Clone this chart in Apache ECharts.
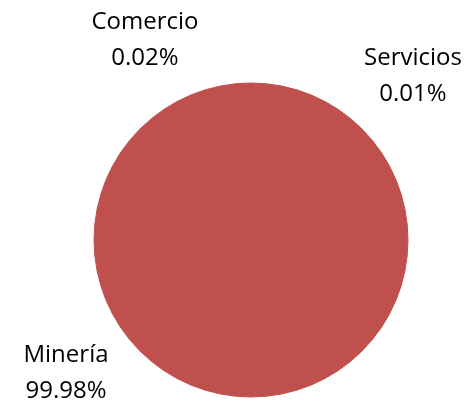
<!DOCTYPE html>
<html>
<head>
<meta charset="utf-8">
<script src="https://cdn.jsdelivr.net/npm/echarts@6/dist/echarts.min.js"></script>
<style>
  html, body { margin: 0; padding: 0; background: #fff; }
  #chart { width: 469px; height: 403px; }
</style>
</head>
<body>
<div id="chart"></div>
<script>
  // sectores y su participación (%)
  const sectors = ['Comercio', 'Servicios', 'Minería'];
  const shares = [0.02, 0.01, 99.98];

  // dónde va cada etiqueta (centro del bloque de texto)
  const labelSpots = [[145, 40], [413, 76], [66, 373]];

  const chart = echarts.init(document.getElementById('chart'));

  chart.setOption({
    animation: false,
    series: [{
      type: 'pie',
      center: [251, 240],
      radius: [0, 157],
      startAngle: 90,
      clockwise: true,
      color: ['#C0504D'],
      itemStyle: { color: '#C0504D', borderColor: '#C0504D', borderWidth: 1 },
      emphasis: { disabled: true },
      label: {
        show: true,
        position: 'outside',
        formatter: p => p.name + '\n' + p.value.toFixed(2) + '%',
        fontFamily: 'Open Sans',
        fontSize: 24,
        lineHeight: 36,
        color: '#000',
        align: 'center',
        overflow: 'none'
      },
      labelLine: { show: false },
      labelLayout: params => ({
        x: labelSpots[params.dataIndex][0],
        y: labelSpots[params.dataIndex][1],
        align: 'center',
        verticalAlign: 'middle'
      }),
      data: sectors.map((name, i) => ({ name, value: shares[i] }))
    }]
  });
</script>
</body>
</html>
